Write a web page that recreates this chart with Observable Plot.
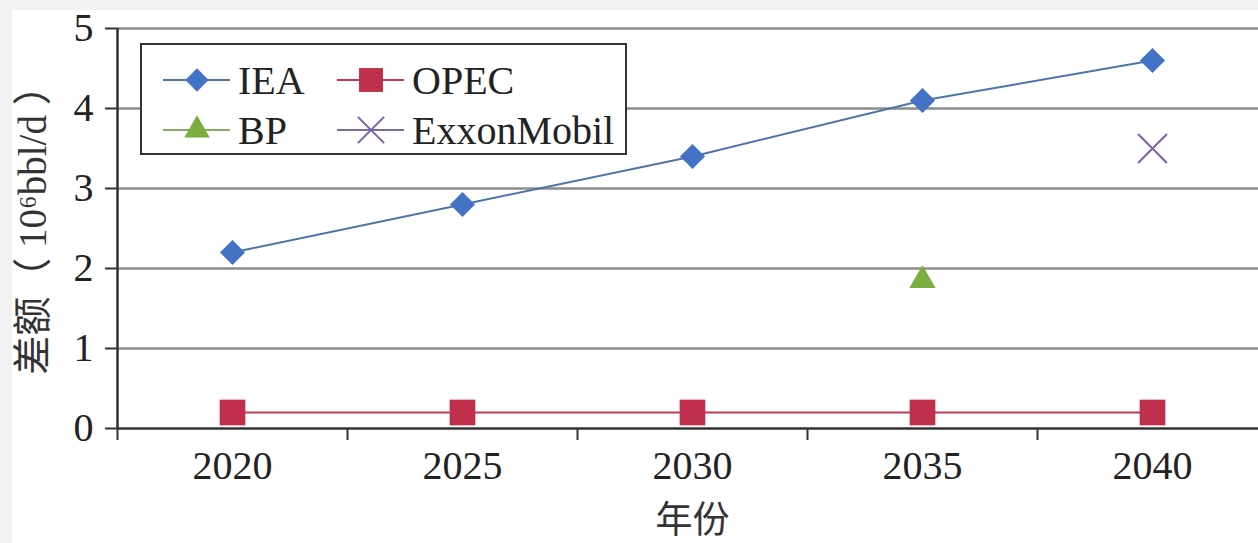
<!DOCTYPE html>
<html>
<head>
<meta charset="utf-8">
<script src="https://cdn.jsdelivr.net/npm/d3@7"></script>
<script src="https://cdn.jsdelivr.net/npm/@observablehq/plot@0.6"></script>
<style>
  html, body { margin: 0; padding: 0; background: #f2f2f2; overflow: hidden; width: 1258px; height: 543px; }
  #wrap { position: absolute; left: 12px; top: 10px; width: 1246px; height: 533px; background: #fff; }
  #legend { position: absolute; left: 128px; top: 33px; }
</style>
</head>
<body>
<div id="wrap">
  <div id="chart"></div>
  <div id="legend"></div>
</div>
<script>
// ---- data ----
const years = [2020, 2025, 2030, 2035, 2040];
const ieaValues = [2.2, 2.8, 3.4, 4.1, 4.6];
const opecValues = [0.2, 0.2, 0.2, 0.2, 0.2];
const bpYears = [2035];
const bpValues = [1.85];
const exxonYears = [2040];
const exxonValues = [3.5];
const yTicks = [0, 1, 2, 3, 4, 5];
const xBoundaries = [2017.5, 2022.5, 2027.5, 2032.5, 2037.5, 2042.5];
const seriesNames = ["IEA", "OPEC", "BP", "ExxonMobil"];
const yLabel = "差额（ 10⁶bbl/d ）";
const xLabel = "年份";

const colors = { IEA: "#4472c4", OPEC: "#c0304d", BP: "#7aaf3f", ExxonMobil: "#7b62a6" };
const lineColors = { IEA: "#4f73ab", OPEC: "#c23a52" };

const toRows = (xs, vs) => xs.map((x, i) => ({ year: x, value: vs[i] }));
const iea = toRows(years, ieaValues);
const opec = toRows(years, opecValues);
const bp = toRows(bpYears, bpValues);
const exxon = toRows(exxonYears, exxonValues);

const serif = "Liberation Serif, Times New Roman, DejaVu Serif, Noto Sans CJK SC, serif";

const chart = Plot.plot({
  width: 1260,
  height: 533,
  marginLeft: 105,
  marginRight: 5,
  marginTop: 18,
  marginBottom: 115,
  x: { domain: [2017.5, 2042.5] },
  y: { domain: [0, 5] },
  style: { fontFamily: serif, fontSize: "40px", color: "#222", background: "transparent", maxWidth: "none", overflow: "visible" },
  marks: [
    Plot.ruleY(yTicks.filter(d => d > 0), { stroke: "#8c8c8c", strokeWidth: 2.5 }),
    Plot.ruleY([0], { stroke: "#333", strokeWidth: 2.5 }),
    Plot.ruleX([xBoundaries[0]], { y1: 0, y2: 5, stroke: "#333", strokeWidth: 2.5 }),
    Plot.axisY({ ticks: yTicks, tickSize: 12, tickPadding: 12, tickFormat: d => String(d), label: null, stroke: "#333", strokeWidth: 2, fontSize: 40, fontFamily: serif }),
    Plot.axisX({ ticks: xBoundaries, tickSize: 12, tickFormat: () => "", label: null, stroke: "#333", strokeWidth: 2 }),
    Plot.axisX({ ticks: years, tickSize: 0, tickPadding: 22, tickFormat: d => String(d), label: null, fontSize: 40, fontFamily: serif }),
    Plot.text([yLabel], { frameAnchor: "left", dx: -84, dy: -8, rotate: -90, textAnchor: "middle", lineAnchor: "middle", fontSize: 39, fill: "#333", fontFamily: serif }),
    Plot.text([xLabel], { frameAnchor: "bottom", dy: 93, textAnchor: "middle", lineAnchor: "middle", fontSize: 37, fill: "#333", fontFamily: serif }),
    Plot.line(iea, { x: "year", y: "value", stroke: lineColors.IEA, strokeWidth: 2 }),
    Plot.line(opec, { x: "year", y: "value", stroke: lineColors.OPEC, strokeWidth: 2 }),
    Plot.dot(iea, { x: "year", y: "value", symbol: "diamond2", r: 11.3, fill: colors.IEA, stroke: null }),
    Plot.dot(opec, { x: "year", y: "value", symbol: "square", r: 14.5, fill: colors.OPEC, stroke: null }),
    Plot.dot(bp, { x: "year", y: "value", symbol: "triangle", r: 9.8, fill: colors.BP, stroke: null }),
    Plot.dot(exxon, { x: "year", y: "value", symbol: "times", r: 13.2, stroke: colors.ExxonMobil, strokeWidth: 2, fill: "none" })
  ]
});
document.getElementById("chart").appendChild(chart);

// ---- legend ----
const legendSpec = {
  IEA: { symbol: d3.symbolDiamond2, size: Math.PI * 10.5 * 10.5, fill: colors.IEA, line: lineColors.IEA },
  OPEC: { symbol: d3.symbolSquare, size: Math.PI * 13.5 * 13.5, fill: colors.OPEC, line: lineColors.OPEC },
  BP: { symbol: d3.symbolTriangle, size: Math.PI * 9.5 * 9.5, fill: colors.BP, line: "#8aa86a" },
  ExxonMobil: { symbol: d3.symbolTimes, size: Math.PI * 12 * 12, stroke: colors.ExxonMobil, line: "#7b6aa0" }
};
const lw = 487, lh = 112;
const lsvg = d3.create("svg").attr("width", lw).attr("height", lh).style("display", "block");
lsvg.append("rect").attr("x", 1).attr("y", 1).attr("width", lw - 2).attr("height", lh - 2)
  .attr("fill", "#fff").attr("stroke", "#333").attr("stroke-width", 2);
const colX = [23, 197];
const rowY = [37, 87];
seriesNames.forEach((name, i) => {
  const cx = colX[i % 2], cy = rowY[Math.floor(i / 2)];
  const s = legendSpec[name];
  const g = lsvg.append("g").attr("transform", `translate(${cx},${cy})`);
  g.append("line").attr("x1", 0).attr("x2", 67).attr("y1", 0).attr("y2", 0).attr("stroke", s.line).attr("stroke-width", 2);
  const p = g.append("path").attr("transform", "translate(34,0)").attr("d", d3.symbol(s.symbol, s.size)());
  if (s.stroke) p.attr("fill", "none").attr("stroke", s.stroke).attr("stroke-width", 2);
  else p.attr("fill", s.fill);
  g.append("text").attr("x", 75).attr("y", 0).attr("dy", "0.35em")
    .style("font-family", serif).attr("font-size", 40).attr("fill", "#222").text(name);
});
document.getElementById("legend").appendChild(lsvg.node());
</script>
</body>
</html>
